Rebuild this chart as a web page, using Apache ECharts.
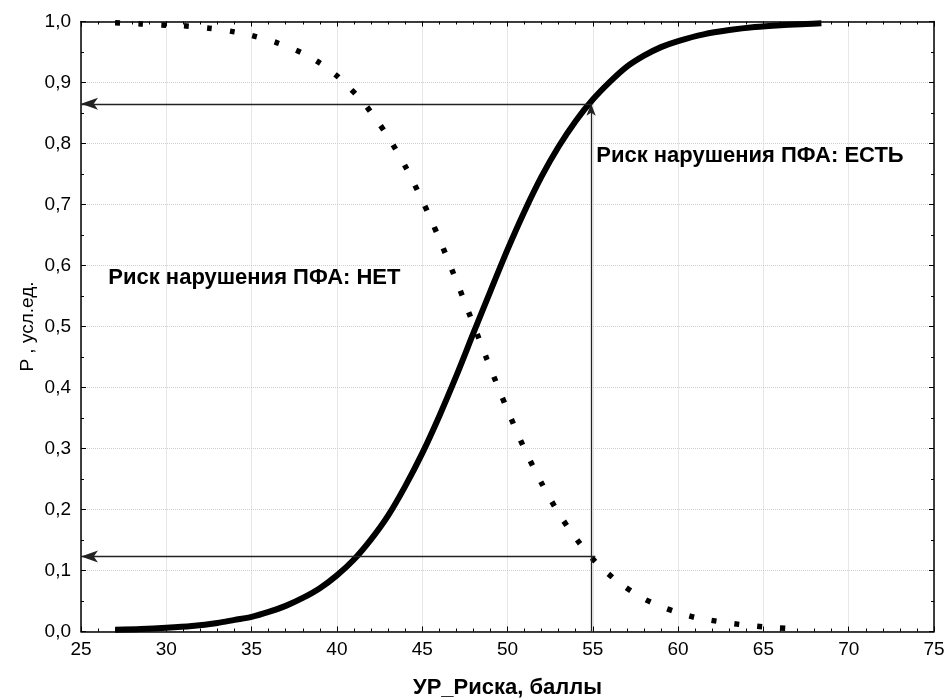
<!DOCTYPE html>
<html>
<head>
<meta charset="utf-8">
<script src="https://cdn.jsdelivr.net/npm/echarts@6/dist/echarts.min.js"></script>
<style>
  html, body { margin: 0; padding: 0; background: #fff; }
  #chart { width: 946px; height: 700px; }
</style>
</head>
<body>
<div id="chart"></div>
<script>
// кривая "риск есть" (сплошная)
var riskX = [27, 28.5, 30, 31.5, 33, 34, 35, 36, 37, 38, 39, 40, 41, 42, 43, 44, 45, 46, 47, 48, 49, 50, 51, 52, 53, 54, 55, 56, 57, 58, 59, 60, 61.5, 63, 64.5, 66, 67.5, 68.4];
var riskY = [0.003, 0.004, 0.006, 0.009, 0.014, 0.019, 0.024, 0.032, 0.042, 0.055, 0.071, 0.092, 0.118, 0.151, 0.19, 0.238, 0.292, 0.353, 0.419, 0.489, 0.558, 0.626, 0.689, 0.746, 0.795, 0.837, 0.872, 0.901, 0.926, 0.944, 0.958, 0.968, 0.979, 0.986, 0.991, 0.994, 0.996, 0.997];

// кривая "риска нет" (пунктир)
var noRiskX = [27, 28.5, 30, 31, 32.5, 34, 35, 36.5, 38, 39, 40, 40.5, 41.5, 42, 43, 44, 45, 45.5, 46, 46.7, 47.2, 47.7, 48.3, 48.8, 49.5, 50, 51, 52, 53, 54, 55.2, 56.5, 57.9, 59, 60, 61, 61.8, 63.2, 64.5, 65.8, 67.2];
var noRiskY = [0.998, 0.996, 0.994, 0.993, 0.989, 0.983, 0.977, 0.965, 0.948, 0.932, 0.911, 0.898, 0.869, 0.851, 0.811, 0.763, 0.707, 0.676, 0.644, 0.596, 0.561, 0.525, 0.482, 0.446, 0.397, 0.363, 0.299, 0.243, 0.194, 0.153, 0.113, 0.081, 0.055, 0.041, 0.031, 0.023, 0.019, 0.013, 0.009, 0.006, 0.004];

// стрелки: пороговый балл и уровни вероятности
var cutX = 54.9;
var levelHigh = 0.865;
var levelLow = 0.123;

var labelNo = 'Риск нарушения ПФА: НЕТ';
var labelYes = 'Риск нарушения ПФА: ЕСТЬ';

function pairs(xs, ys) {
  return xs.map(function (x, i) { return [x, ys[i]]; });
}

var font = 'Liberation Sans, Arial, sans-serif';
var chart = echarts.init(document.getElementById('chart'));

function xAx(pos, show) {
  return {
    type: 'value', position: pos, min: 25, max: 75, interval: 5,
    axisLine: { show: true, onZero: false, lineStyle: { color: '#000', width: 1.5 } },
    axisTick: { show: true, inside: true, length: 5, lineStyle: { color: '#000' } },
    minorTick: { show: true, splitNumber: 5, length: 3, lineStyle: { color: '#000' } },
    splitLine: { show: show, lineStyle: { color: '#cfcfcf', type: 'dotted' } },
    axisLabel: { show: show, color: '#000', fontSize: 19, fontFamily: font, margin: 9, showMinLabel: true, showMaxLabel: true },
    name: show ? 'УР_Риска, баллы' : '',
    nameLocation: 'middle', nameGap: 45,
    nameTextStyle: { color: '#000', fontSize: 22, fontWeight: 'bold', fontFamily: font }
  };
}
function yAx(pos, show) {
  return {
    type: 'value', position: pos, min: 0, max: 1, interval: 0.1,
    axisLine: { show: true, onZero: false, lineStyle: { color: '#000', width: 1.5 } },
    axisTick: { show: true, inside: true, length: 5, lineStyle: { color: '#000' } },
    minorTick: { show: true, splitNumber: 2, length: 3, lineStyle: { color: '#000' } },
    splitLine: { show: show, lineStyle: { color: '#cfcfcf', type: 'dotted' } },
    axisLabel: {
      show: show, color: '#000', fontSize: 19, fontFamily: font, margin: 10,
      showMinLabel: true, showMaxLabel: true,
      formatter: function (v) { return v.toFixed(1).replace('.', ','); }
    },
    name: show ? 'P , усл.ед.' : '',
    nameLocation: 'middle', nameGap: 44, nameRotate: 90, nameMoveOverlap: false,
    nameTextStyle: { color: '#000', fontSize: 19, fontFamily: font }
  };
}

var arrowBig = [9, 17];
var arrowSmall = [7, 12];

var option = {
  animation: false,
  backgroundColor: '#fff',
  grid: { left: 81, right: 12, top: 21.5, bottom: 68.5, outerBoundsMode: 'none' },
  xAxis: [xAx('bottom', true), xAx('top', false)],
  yAxis: [yAx('left', true), yAx('right', false)],
  series: [
    {
      name: 'нет',
      type: 'line',
      data: pairs(noRiskX, noRiskY),
      showSymbol: false,
      smooth: 0.3,
      lineStyle: { color: '#000', width: 5.5, type: [5, 18], cap: 'butt' },
      z: 3
    },
    {
      name: 'есть',
      type: 'line',
      data: pairs(riskX, riskY),
      showSymbol: false,
      smooth: 0.3,
      lineStyle: { color: '#000', width: 6 },
      z: 4,
      markLine: {
        silent: true,
        animation: false,
        label: { show: false },
        lineStyle: { color: '#222', width: 1.3, type: 'solid' },
        data: [
          [{ coord: [cutX, levelHigh], symbol: 'none' }, { coord: [25, levelHigh], symbol: 'arrow', symbolSize: arrowBig }],
          [{ coord: [cutX + 0.25, levelLow], symbol: 'none' }, { coord: [25, levelLow], symbol: 'arrow', symbolSize: arrowBig }],
          [{ coord: [cutX, 0], symbol: 'none' }, { coord: [cutX, levelHigh], symbol: 'arrow', symbolSize: arrowSmall }]
        ]
      },
      markPoint: {
        silent: true,
        symbol: 'circle',
        symbolSize: 0,
        label: {
          show: true, position: [0, 0], align: 'left', verticalAlign: 'middle',
          color: '#000', fontSize: 22, fontWeight: 'bold', fontFamily: font,
          formatter: function (p) { return p.name; }
        },
        data: [
          { name: labelNo, coord: [26.6, 0.58] },
          { name: labelYes, coord: [55.2, 0.78] }
        ]
      }
    }
  ]
};

chart.setOption(option);
</script>
</body>
</html>
